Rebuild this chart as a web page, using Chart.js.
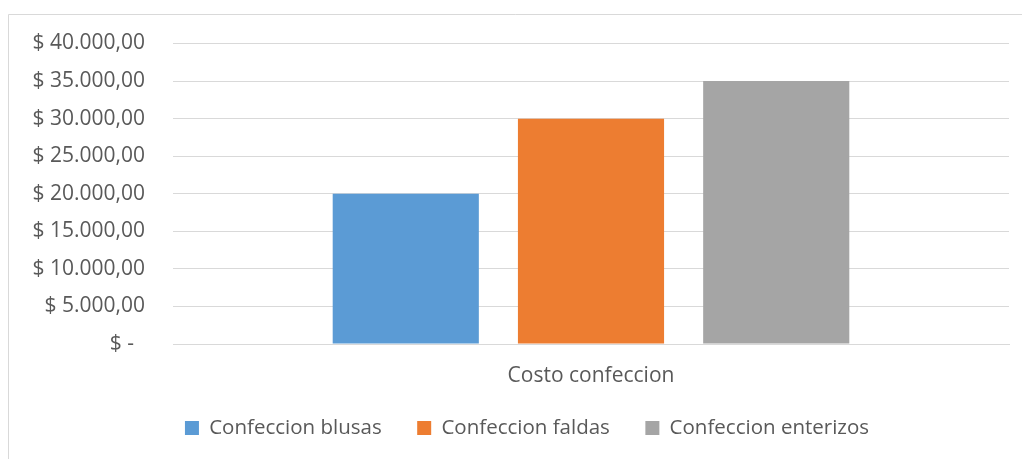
<!DOCTYPE html>
<html>
<head>
<meta charset="utf-8">
<script src="https://cdn.jsdelivr.net/npm/chart.js@4"></script>
<style>
  html, body { margin: 0; padding: 0; background: #ffffff; }
  canvas { display: block; }
</style>
</head>
<body>
<canvas id="c" width="1022" height="459"></canvas>
<script>
const categories = ["Costo confeccion"];
const seriesNames = ["Confeccion blusas", "Confeccion faldas", "Confeccion enterizos"];
const blusasValues = [20000];
const faldasValues = [30000];
const enterizosValues = [35000];
const yTickLabels = ["$ -  ", "$ 5.000,00", "$ 10.000,00", "$ 15.000,00", "$ 20.000,00", "$ 25.000,00", "$ 30.000,00", "$ 35.000,00", "$ 40.000,00"];
const seriesColors = ["#5B9BD5", "#ED7D31", "#A5A5A5"];

const FONT = "'Open Sans', 'Noto Sans', sans-serif";
const TEXT = "#595959";
const GRID = "#d9d9d9";

const frame = {
  id: "frame",
  beforeDraw(chart) {
    const ctx = chart.ctx;
    ctx.save();
    ctx.fillStyle = "#ffffff";
    ctx.fillRect(0, 0, chart.width, chart.height);
    ctx.strokeStyle = GRID;
    ctx.lineWidth = 1;
    ctx.beginPath();
    ctx.moveTo(8.5, chart.height + 2);
    ctx.lineTo(8.5, 14.5);
    ctx.lineTo(chart.width + 2, 14.5);
    ctx.stroke();
    ctx.restore();
  }
};

const legendSize = {
  id: "legendSize",
  afterInit(chart) {
    const lg = chart.legend;
    if (!lg) return;
    const orig = lg.fit;
    lg.fit = function () {
      orig.call(this);
      this.height = 76.75;
    };
  },
  afterLayout(chart) {
    const lg = chart.legend;
    if (!lg) return;
    lg.left = 45;
    lg.width = lg.right - lg.left;
  }
};

const datasets = [blusasValues, faldasValues, enterizosValues].map((vals, i) => ({
  label: seriesNames[i],
  data: vals,
  backgroundColor: seriesColors[i],
  borderWidth: 0,
  categoryPercentage: 0.6647,
  barPercentage: 0.789
}));

new Chart(document.getElementById("c"), {
  type: "bar",
  data: { labels: categories, datasets },
  plugins: [frame, legendSize],
  options: {
    responsive: false,
    animation: false,
    devicePixelRatio: 1,
    layout: { padding: { left: 0, right: 13, top: 43.5, bottom: 0 } },
    plugins: {
      tooltip: { enabled: false },
      legend: {
        position: "bottom",
        labels: {
          boxWidth: 14,
          boxHeight: 14,
          padding: 35.5,
          color: TEXT,
          font: { family: FONT, size: 20.5 }
        }
      }
    },
    scales: {
      x: {
        grid: { display: false, drawTicks: false },
        border: { display: true, color: GRID },
        ticks: { color: TEXT, padding: 19, font: { family: FONT, size: 21 } },
        afterFit(s) { s.height = 38.25; }
      },
      y: {
        min: 0,
        max: 40000,
        grid: { color: GRID, lineWidth: 1, drawTicks: false },
        border: { display: false },
        ticks: {
          stepSize: 5000,
          color: TEXT,
          padding: 28,
          font: { family: FONT, size: 21 },
          callback: (v, i) => yTickLabels[i]
        },
        afterFit(s) { s.width = 173; }
      }
    }
  }
});
</script>
</body>
</html>
